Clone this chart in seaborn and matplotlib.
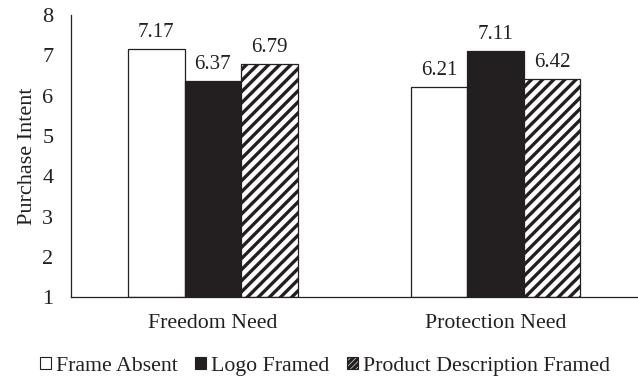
import matplotlib
matplotlib.use("Agg")
import matplotlib.pyplot as plt
import seaborn as sns
import pandas as pd
from matplotlib.patches import Patch

needs = ["Freedom Need", "Protection Need"]
conditions = ["Frame Absent", "Logo Framed", "Product Description Framed"]
freedom_values = [7.17, 6.37, 6.79]
protection_values = [6.21, 7.11, 6.42]
y_ticks = [1, 2, 3, 4, 5, 6, 7, 8]

df = pd.DataFrame({
    "Need": [needs[0]] * 3 + [needs[1]] * 3,
    "Condition": conditions * 2,
    "Intent": freedom_values + protection_values,
})

sns.set_style("white")
plt.rcParams["font.family"] = ["Liberation Serif", "DejaVu Serif"]
plt.rcParams["hatch.linewidth"] = 2.4
plt.rcParams["hatch.color"] = "#231f20"

INK = "#231f20"
fig, ax = plt.subplots(figsize=(6.38, 3.79), dpi=100)
fig.subplots_adjust(left=0.112, right=0.998, top=0.960, bottom=0.216)

face = {"Frame Absent": "white", "Logo Framed": INK, "Product Description Framed": "white"}
hatches = {"Frame Absent": "", "Logo Framed": "", "Product Description Framed": "///"}

sns.barplot(data=df, x="Need", y="Intent", hue="Condition", hue_order=conditions,
            order=needs, palette=face, width=0.6, gap=0, ax=ax,
            edgecolor=INK, linewidth=0.9, legend=False, errorbar=None)

# bars rise from the axis baseline of 1
for container, cond in zip(ax.containers, conditions):
    for patch in container:
        h = patch.get_height()
        patch.set_y(1)
        patch.set_height(h - 1)
        patch.set_hatch(hatches[cond])
        patch.set_facecolor(face[cond])
        patch.set_edgecolor(INK)
    vals = [p.get_height() + 1 for p in container]
    ax.bar_label(container, labels=[f"{v:.2f}" for v in vals], padding=5,
                 fontsize=15, color=INK)

ax.set_ylim(1, 8)
ax.set_yticks(y_ticks)
ax.set_yticklabels([str(t) for t in y_ticks], fontsize=16, color=INK)
ax.set_xlim(-0.5, 1.5)
ax.tick_params(axis="x", labelsize=15.7, colors=INK, length=0, pad=12)
ax.tick_params(axis="y", length=0, pad=13)
ax.set_xlabel("")
ax.set_ylabel("Purchase Intent", fontsize=16, color=INK, labelpad=4)

for side in ["top", "right"]:
    ax.spines[side].set_visible(False)
for side in ["left", "bottom"]:
    ax.spines[side].set_color(INK)
    ax.spines[side].set_linewidth(0.9)

legend_hatch = {"Frame Absent": "", "Logo Framed": "", "Product Description Framed": "//////"}
handles = [Patch(facecolor=face[c], edgecolor=INK, hatch=legend_hatch[c], linewidth=0.8)
           for c in conditions]
fig.legend(handles, conditions, loc="center", bbox_to_anchor=(0.509, 0.034), ncol=3,
           frameon=False, fontsize=15.7, handlelength=0.5, handleheight=0.5,
           handletextpad=0.23, columnspacing=0.8, labelcolor=INK)

fig.savefig("out.png", dpi=100)
